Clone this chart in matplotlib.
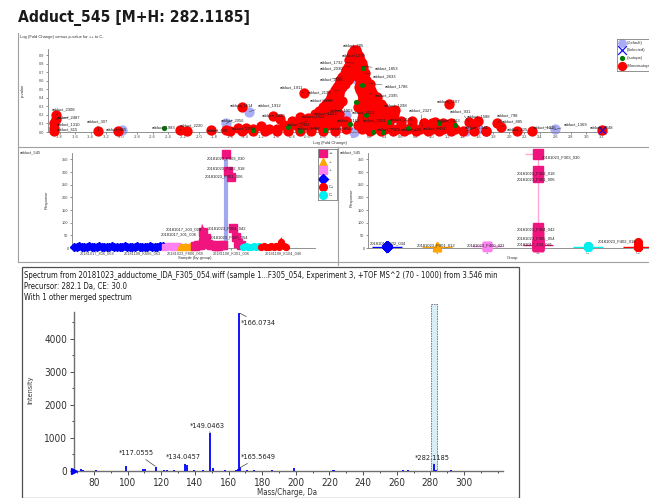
import numpy as np
import matplotlib
matplotlib.use("Agg")
import matplotlib.pyplot as plt
from matplotlib.lines import Line2D
from matplotlib.patches import Rectangle
from matplotlib import font_manager

W, H = 649, 498
plt.rcParams['font.family'] = ['Liberation Sans', 'DejaVu Sans']
plt.rcParams['axes.unicode_minus'] = False

# pick a narrow face if one is installed, otherwise plain Liberation Sans (shrunk to fit)
NARROW = dict(family='Liberation Sans')
for f in font_manager.fontManager.ttflist:
    tag = (f.name + f.fname).lower()
    if ('narrow' in tag or 'condensed' in tag) and f.style == 'normal':
        NARROW = dict(family=f.name, stretch=f.stretch)
        break

# ---------------- data: volcano plot ----------------
title = "Adduct_545 [M+H: 282.1185]"
mono_rows = [
    (0.97, [0.0, 0.03]),
    (0.93, [-0.02, 0.04]),
    (0.89, [-0.04, 0.02, 0.06]),
    (0.85, [-0.06, 0.0, 0.08]),
    (0.81, [-0.05, 0.03, 0.1]),
    (0.77, [-0.08, 0.0, 0.06, 0.12]),
    (0.73, [-0.1, -0.03, 0.05, 0.1]),
    (0.69, [-0.12, 0.02, 0.08, 0.14]),
    (0.65, [-0.15, -0.05, 0.05, 0.12]),
    (0.61, [-0.18, -0.08, 0.1, 0.16]),
    (0.57, [-0.2, -0.12, 0.08, 0.14, 0.2]),
    (0.53, [-0.22, -0.15, 0.06, 0.12, 0.18]),
    (0.49, [-0.25, -0.18, 0.08, 0.15, 0.22]),
    (0.45, [-0.28, -0.2, 0.1, 0.18, 0.25]),
    (0.41, [-0.3, -0.22, 0.12, 0.2, 0.3]),
    (0.37, [-0.32, -0.25, -0.15, 0.1, 0.18, 0.28]),
    (0.33, [-0.36, -0.28, -0.2, 0.08, 0.15, 0.25, 0.35]),
    (0.29, [-0.4, -0.32, -0.22, 0.05, 0.12, 0.2, 0.3, 0.38]),
    (0.25, [-0.45, -0.35, -0.25, 0.1, 0.18, 0.28, 0.4, 0.48]),
    (0.21, [-0.5, -0.4, -0.3, -0.2, 0.12, 0.22, 0.32, 0.42, 0.52]),
    (0.17, [-0.6, -0.5, -0.4, -0.3, -0.2, 0.1, 0.2, 0.3, 0.4, 0.5]),
    (0.13, [-0.8, -0.65, -0.5, -0.4, -0.3, -0.2, -0.1, 0.1, 0.2, 0.3, 0.4, 0.6, 0.75]),
    (0.10, [0.9, 1.0, 1.15, 1.25]),
    (0.08, [-0.9, -0.75, -0.6, -0.45, -0.35, -0.25, -0.1, 0.05, 0.15, 0.3, 0.45, 0.6, 0.75, 0.9, 1.05]),
    (0.04, [-1.0, -0.85, -0.7, -0.55, -0.4, -0.25, -0.1, 0.1, 0.25, 0.4, 0.55, 0.7, 0.85, 1.0, 1.15, 1.3]),
    (0.01, [-1.6, -1.45, -1.3, -1.15, -1.0, -0.85, -0.7, -0.55, -0.4, -0.25, 0.2, 0.35, 0.5,
            0.65, 0.8, 0.95, 1.1, 1.25, 1.4, 1.55, 1.7]),
]
mono_fc = [-3.85, -3.85, -3.87, -3.87, -3.87, -3.3, -3.05, -2.25, -2.15, -1.85, -1.65, -1.45, -1.5,
           -1.4, -1.3, -1.2, -1.1, -1.05, -0.95, -0.7, -0.65, 0.53, 0.9, 1.05, 1.2, 1.23, 1.48,
           1.6, 1.55, 1.7, 1.85, 1.9, 2.1, 2.3, 3.2]
mono_p = [0.2, 0.15, 0.1, 0.05, 0.01, 0.01, 0.01, 0.02, 0.01, 0.02, 0.02, 0.29, 0.05,
          0.05, 0.03, 0.07, 0.03, 0.19, 0.15, 0.18, 0.46, 0.26, 0.1, 0.12, 0.08, 0.33, 0.12,
          0.13, 0.09, 0.01, 0.11, 0.06, 0.01, 0.01, 0.02]
def_fc = [-3.0, -1.65, -1.35, -1.15, -0.6, -0.45, -0.25, -0.1, 0.0, 0.02, 0.35, 0.45, 0.6, 1.45, 1.6, 2.6, -0.3]
def_p = [0.02, 0.1, 0.24, 0.03, 0.13, 0.18, 0.05, 0.2, 0.0, 0.62, 0.3, 0.25, 0.1, 0.01, 0.03, 0.03, 0.4]
iso_fc = [-2.45, -1.3, -0.85, -0.7, -0.38, -0.05, 0.1, 0.12, 0.15, 0.25, 0.38, 0.45, 0.7, 1.1, 1.3, 0.02]
iso_p = [0.05, 0.02, 0.06, 0.01, 0.02, 0.09, 0.55, 0.75, 0.2, 0.0, 0.0, 0.12, 0.05, 0.1, 0.08, 0.35]
sel_fc, sel_p = [3.2], [0.02]

vol_labels = [
    ("adduct_2308", -3.85, 0.20), ("adduct_2487", -3.85, 0.15), ("adduct_1310", -3.87, 0.10),
    ("adduct_615", -3.87, 0.05), ("adduct_307", -3.3, 0.01), ("adduct_465", -3.0, 0.02),
    ("adduct_1983", -2.45, 0.05), ("adduct_2220", -2.25, 0.02), ("adduct_600", -1.85, 0.02),
    ("adduct_2056", -1.65, 0.10), ("adduct_1614", -1.45, 0.29), ("adduct_1912", -1.35, 0.24),
    ("adduct_2099", -1.4, 0.05), ("adduct_1830", -1.05, 0.19), ("adduct_1911", -0.65, 0.46),
    ("adduct_2481", -0.6, 0.13), ("adduct_1787", -0.45, 0.04), ("adduct_1624", -0.5, 0.17),
    ("adduct_2193", -0.2, 0.49), ("adduct_2160", -0.28, 0.37), ("adduct_1003", -0.25, 0.25),
    ("adduct_685", 0.0, 0.97), ("adduct_1270", 0.02, 0.89), ("adduct_1732", 0.0, 0.81),
    ("adduct_2030", -0.05, 0.77), ("adduct_1853", 0.1, 0.77), ("adduct_2633", 0.14, 0.69),
    ("adduct_2506", -0.15, 0.65), ("adduct_1786", 0.2, 0.57), ("adduct_2395", 0.2, 0.45),
    ("adduct_1298", 0.53, 0.26), ("adduct_1507", 1.23, 0.33), ("adduct_2327", 0.88, 0.06),
    ("adduct_931", 1.48, 0.12), ("adduct_1588", 1.6, 0.13), ("adduct_798", 1.85, 0.11),
    ("adduct_885", 1.9, 0.06), ("adduct_425", 2.1, 0.01), ("adduct_1976", 2.6, 0.03),
    ("adduct_1369", 2.6, 0.03), ("adduct_2648", 3.2, 0.02), ("adduct_2113", 0.12, 0.13),
    ("adduct_1165", 0.05, 0.08), ("adduct_2049", -0.1, 0.04), ("adduct_2021", 0.3, 0.08),
    ("adduct_2309", 0.5, 0.04), ("adduct_2176", 0.75, 0.08), ("adduct_625", 0.8, 0.01),
    ("adduct_2454", 1.1, 0.04), ("adduct_1913", 1.1, 0.10), ("adduct_1341", 1.45, 0.01),
    ("adduct_1503", -0.3, 0.2),
]
# label text anchor (left edge, centre) in figure pixels from top-left
vol_label_pos = [
    (52, 109), (57, 117), (57, 124), (57, 129), (87, 121), (106, 129), (152, 127), (180, 125),
    (207, 130), (221, 120), (230, 105), (258, 105), (232, 128), (262, 115), (280, 87), (287, 124),
    (297, 128), (302, 116), (308, 92), (310, 100), (330, 110), (343, 45), (342, 55), (320, 62),
    (320, 68), (375, 68), (373, 76), (320, 79), (385, 86), (375, 95), (384, 105), (437, 101),
    (409, 110), (450, 111), (467, 116), (497, 115), (502, 121), (507, 129), (533, 127), (564, 124),
    (590, 127), (352, 112), (337, 120), (330, 128), (363, 120), (377, 129), (390, 119), (401, 129),
    (423, 128), (437, 120), (465, 127), (314, 113),
]

# ---------------- data: sample / group profile ----------------
group_order = ['--', '-+', '+-', '++', 'C-', 'C+']          # order along sample axis
group_colors = {'++': '#f0147f', '+-': '#ffa500', '-+': '#ff80f0', '--': '#0000ff',
                'C+': '#ff0000', 'C-': '#00f0f0'}
group_markers = {'++': 's', '+-': '^', '-+': 's', '--': 'D', 'C+': 'o', 'C-': 'o'}
group_vals = {
    '--': [4, 5, 6, 5, 4, 5, 6, 5, 5, 4, 6, 5, 5, 4, 5, 6, 5, 5, 4, 5, 6, 5, 4, 5, 5, 6, 5, 4,
           5, 5, 6, 5, 4, 5, 9, 6],
    '-+': [5, 6, 7, 5, 6, 8],
    '+-': [4, 5, 6, 5, 7, 5],
    '++': [8, 10, 12, 62, 40, 15, 10, 12, 9, 8, 10, 12, 370, 305, 280, 78, 45, 20, 10],
    'C-': [5, 6, 4, 5, 6, 5, 7],
    'C+': [5, 6, 5, 4, 6, 5, 7, 5, 22, 6, 5],
}
sample_ticks = [9, 27, 44, 62, 83]
sample_tick_labels = ["20181017_806_068", "20181108_K606_063", "20181023_F806_069",
                      "20181108_K301_006", "20181108_K104_046"]
# labelled samples: (name, group, index within group)
sample_labels = [("20181023_F303_030", '++', 12), ("20181023_F302_018", '++', 13),
                 ("20181023_F301_006", '++', 14), ("20181023_F304_042", '++', 15),
                 ("20181023_F305_054", '++', 16), ("20181017_203_029", '++', 3),
                 ("20181017_301_006", '++', 4)]
sample_label_pos = [(226, 158), (226, 168), (224, 176), (227, 228), (229, 237), (184, 229), (179, 234)]

group_axis = ['--', '+-', '-+', '++', 'C-', 'C+']
group_labels = [("20181023_F303_030", '++', 12), ("20181023_F302_018", '++', 13),
                ("20181023_F301_006", '++', 14), ("20181023_F304_042", '++', 15),
                ("20181023_F305_054", '++', 16), ("20181017_204_041", '++', 17),
                ("20181017_902_034", '--', 34), ("20181023_F901_012", '+-', 4),
                ("20181023_F400_021", '-+', 5), ("20181023_F402_018", 'C+', 8)]
group_label_pos = [(542, 157), (517, 173), (517, 179), (517, 229), (517, 238), (517, 244),
                   (370, 243), (417, 245), (467, 245), (598, 241)]

# ---------------- data: MS/MS spectrum ----------------
mz = [72.0, 73.5, 81.0, 99.0, 109.3, 110.2, 117.06, 121.5, 123.2, 127.5, 134.05, 135.0, 139.5,
      145.0, 149.05, 150.5, 151.0, 158.0, 164.6, 165.56, 166.07, 167.0, 171.0, 175.0, 186.0,
      199.0, 222.0, 223.0, 264.0, 266.5, 282.12, 283.1, 292.0]
intensity = [60, 30, 30, 150, 50, 60, 120, 30, 40, 30, 200, 170, 25, 30, 1160, 40, 80, 20, 40,
             60, 4800, 120, 25, 20, 20, 100, 30, 40, 30, 25, 200, 40, 25]
peak_labels = [("*166.0734", 166.07, 4800), ("*149.0463", 149.05, 1160), ("*117.0555", 117.06, 120),
               ("*134.0457", 134.05, 200), ("*165.5649", 165.56, 60), ("*282.1185", 282.12, 200)]
peak_label_pos = [(241, 323), (190, 426), (119, 453), (166, 457), (241, 457), (415, 458)]
precursor_window = (280.6, 284.1)
spec_header = ["Spectrum from 20181023_adductome_IDA_F305_054.wiff (sample 1...F305_054, Experiment 3, "
               "+TOF MS^2 (70 - 1000) from 3.546 min",
               "Precursor: 282.1 Da, CE: 30.0",
               "With 1 other merged spectrum"]

# ---------------- helpers ----------------
fig = plt.figure(figsize=(W / 100, H / 100), dpi=100)
renderer = fig.canvas.get_renderer()


def box(l, t, r, b):
    return [l / W, 1 - b / H, (r - l) / W, (b - t) / H]


def fline(x0, y0, x1, y1, color='#a0a0a0', lw=0.8):
    fig.add_artist(Line2D([x0 / W, x1 / W], [1 - y0 / H, 1 - y1 / H], transform=fig.transFigure,
                          color=color, lw=lw))


def ftext(x, y, s, **kw):
    kw.setdefault('va', 'center')
    return fig.text(x / W, 1 - y / H, s, **kw)


def fit(t, target, vertical=False):
    # shrink a text until its width (or height) is no more than target pixels
    bb = t.get_window_extent(renderer)
    size = bb.height if vertical else bb.width
    if size > target:
        t.set_fontsize(t.get_fontsize() * target / size)
    return t.get_fontsize()


def tiny_axes(ax):
    for s in ['top', 'right']:
        ax.spines[s].set_visible(False)
    for s in ['left', 'bottom']:
        ax.spines[s].set_color('#808080')
        ax.spines[s].set_linewidth(0.6)
    ax.tick_params(length=1.5, width=0.4, labelsize=2.8, pad=1, colors='#404040')
    ax.patch.set_alpha(0)


TINY = 3.0
DARK = '#303030'

# panel frames
fline(18, 33, 18, 262)
fline(18, 147, 649, 147)
fline(338, 147, 338, 265)
fline(18, 262, 649, 262)
fig.add_artist(Rectangle((22 / W, 0), (519 - 22) / W, 1 - 267 / H, transform=fig.transFigure,
                         fill=False, ec='#505050', lw=0.9))

t = ftext(18, 18, title, fontsize=14, fontweight='bold', color='#1a1a1a', **NARROW)
fit(t, 234)

# ---------------- volcano ----------------
ax = fig.add_axes(box(48, 49, 607, 132))
tiny_axes(ax)
ax.set_xlim(-3.95, 3.265)
ax.set_ylim(0, 0.976)
mfc = [f for p, row in mono_rows for f in row] + mono_fc
mp = [p for p, row in mono_rows for f in row] + mono_p
ax.scatter(def_fc, def_p, s=55, color='#a8acf5', lw=0, zorder=2, clip_on=False)
ax.scatter(mfc, mp, s=55, color='#ff0000', lw=0, zorder=3, clip_on=False)
ax.scatter(iso_fc, iso_p, s=14, color='#007a00', lw=0, zorder=4, clip_on=False)
ax.scatter(sel_fc, sel_p, s=30, marker='x', color='#1010ff', lw=0.9, zorder=5, clip_on=False)
xt = np.round(np.arange(-3.8, 3.21, 0.2), 1)
yt = np.round(np.arange(0, 0.91, 0.1), 1)
ax.set_xticks(xt)
ax.set_xticklabels(['%.1f' % v for v in xt])
ax.set_yticks(yt)
ax.set_yticklabels(['%.1f' % v for v in yt])
for (name, f, p), (tx, ty) in zip(vol_labels, vol_label_pos):
    ax.annotate(name, xy=(f, p), xytext=(tx, H - ty), textcoords='figure pixels',
                fontsize=TINY, color='#202020', ha='left', va='center', zorder=6,
                arrowprops=dict(arrowstyle='-', color='#202020', lw=0.3, shrinkA=0, shrinkB=0))
ftext(20, 37, "Log (Fold Change) versus p-value for ++ to C-", fontsize=TINY, color=DARK)
ftext(330, 143, "Log (Fold Change)", fontsize=TINY, color=DARK, ha='center')
ftext(23, 90, "p-value", fontsize=TINY, color=DARK, ha='center', rotation=90)

# volcano legend
lax = fig.add_axes(box(617, 39, 655, 71))
lax.set_xlim(617, 655)
lax.set_ylim(71, 39)
lax.set_xticks([])
lax.set_yticks([])
for s in lax.spines.values():
    s.set_color('#808080')
    s.set_linewidth(0.6)
lax.scatter([622], [43], s=40, color='#a8acf5', lw=0)
lax.scatter([622], [50], s=40, marker='x', color='#1010ff', lw=0.9)
lax.scatter([622], [58], s=14, color='#007a00', lw=0)
lax.scatter([622], [66], s=45, color='#ff0000', lw=0)
for yy, s in zip([43, 50, 58, 66], ["(Default)", "(Selected)", "(Isotope)", "(Monoisotopic)"]):
    lax.text(627, yy, s, fontsize=TINY, va='center', color=DARK)

# ---------------- sample profile (left middle) ----------------
ax2 = fig.add_axes(box(72, 153, 315, 248))
tiny_axes(ax2)
ax2.set_xlim(-0.8, 95.3)
ax2.set_ylim(0, 375)
ax2.set_yticks(range(0, 351, 50))
start = 0
starts = {}
for g in group_order:
    vals = np.array(group_vals[g], dtype=float)
    xs = np.arange(start, start + len(vals))
    starts[g] = start
    band = np.where(vals > 100, np.nan, vals)
    ms = 5.5 if g == '++' else 4.2
    ax2.plot(xs, band, color=group_colors[g], lw=3.8, zorder=3, clip_on=False,
             solid_capstyle='butt', solid_joinstyle='miter')
    ax2.plot(xs, vals, ls='none', marker=group_markers[g], ms=ms, color=group_colors[g],
             mec=group_colors[g], zorder=3, clip_on=False)
    start += len(vals)
imax = starts['++'] + int(np.argmax(group_vals['++']))
ax2.vlines(imax, 0, max(group_vals['++']), color='#a0a8f0', lw=3, zorder=2)
ax2.set_xticks(sample_ticks)
ax2.set_xticklabels(sample_tick_labels)
for (name, g, k), (tx, ty) in zip(sample_labels, sample_label_pos):
    ax2.annotate(name, xy=(starts[g] + k, group_vals[g][k]), xytext=(tx, H - ty),
                 textcoords='figure pixels', fontsize=TINY, ha='center', va='center', color='#202020',
                 zorder=6)
ftext(20, 152, "adduct_545", fontsize=TINY, color=DARK)
ftext(47, 200, "Response", fontsize=TINY, color=DARK, ha='center', rotation=90)
ftext(195, 258, "Sample (by group)", fontsize=TINY, color=DARK, ha='center')

# group legend
gax = fig.add_axes(box(318, 149, 337, 200))
gax.set_xlim(318, 337)
gax.set_ylim(200, 149)
gax.set_xticks([])
gax.set_yticks([])
for s in gax.spines.values():
    s.set_color('#808080')
    s.set_linewidth(0.6)
for yy, g in zip([153, 162, 170, 179, 187, 195], ['++', '+-', '-+', '--', 'C+', 'C-']):
    gax.plot([322.5], [yy], marker=group_markers[g], color=group_colors[g], ms=5.5, mec=group_colors[g])
    gax.text(328.5, yy, g, fontsize=TINY, va='center', color=DARK)

# ---------------- group profile (right middle) ----------------
ax3 = fig.add_axes(box(368, 153, 649, 248))
tiny_axes(ax3)
ax3.set_xlim(-0.378, 5.22)
ax3.set_ylim(0, 375)
ax3.set_yticks(range(0, 351, 50))
ax3.set_xticks(range(len(group_axis)))
ax3.set_xticklabels(group_axis)
for i, g in enumerate(group_axis):
    vals = group_vals[g]
    c = group_colors[g]
    ax3.hlines(np.median(vals), i - 0.3, i + 0.3, color=c, lw=1.0, zorder=2)
    if g == '++':
        ax3.vlines(i, 0, max(vals), color='#ffa6d6', lw=1.0, zorder=1)
        ax3.hlines(max(vals), i - 0.25, i, color='#ffa6d6', lw=1.0, zorder=1)
    ms = 7.5 if g == '++' else 5.5
    ax3.plot([i] * len(vals), vals, ls='none', marker=group_markers[g], ms=ms, color=c, mec=c,
             zorder=3, clip_on=False)
for (name, g, k), (tx, ty) in zip(group_labels, group_label_pos):
    ax3.annotate(name, xy=(group_axis.index(g), group_vals[g][k]), xytext=(tx, H - ty),
                 textcoords='figure pixels', fontsize=TINY, ha='left', va='center', color='#202020',
                 zorder=6)
ftext(340, 152, "adduct_545", fontsize=TINY, color=DARK)
ftext(352, 198, "Response", fontsize=TINY, color=DARK, ha='center', rotation=90)
ftext(512, 258, "Group", fontsize=TINY, color=DARK, ha='center')

# ---------------- spectrum ----------------
ax4 = fig.add_axes(box(74, 312, 503, 471))
ax4.set_xlim(68.1, 323.2)
ax4.set_ylim(0, 4818)
for s in ['top', 'right']:
    ax4.spines[s].set_visible(False)
for s in ['left', 'bottom']:
    ax4.spines[s].set_color('#707070')
    ax4.spines[s].set_linewidth(1.0)
ax4.add_patch(Rectangle((precursor_window[0], 0), precursor_window[1] - precursor_window[0], 5060,
                        facecolor='#d8eef5', edgecolor='#707070', lw=0.6, ls=(0, (2, 1)),
                        clip_on=False, zorder=1))
ax4.vlines(mz, 0, intensity, color='#0000ff', lw=1.3, zorder=3, clip_on=False)
ax4.set_xticks(range(80, 301, 20))
ax4.set_xticks(range(70, 321, 10), minor=True)
ax4.set_yticks(range(0, 4001, 1000))
ax4.set_yticks(range(0, 4801, 500), minor=True)
ax4.tick_params(which='major', length=3, width=0.6, labelsize=7.2, colors='#303030', pad=2)
ax4.tick_params(which='minor', length=1.5, width=0.5)
for lab in ax4.get_xticklabels() + ax4.get_yticklabels():
    lab.set(**NARROW)
ax4.plot([68.1], [0], marker='>', color='#0000ff', ms=5, clip_on=False, zorder=5)

# spectrum texts, all sized to the widths seen in the reference
probe = ftext(0, 0, peak_labels[0][0], fontsize=7, **NARROW)
peak_size = fit(probe, 35)
probe.remove()
for (name, m, inten), (tx, ty) in zip(peak_labels, peak_label_pos):
    ax4.annotate(name, xy=(m, inten), xytext=(tx, H - ty), textcoords='figure pixels',
                 fontsize=peak_size, ha='left', va='center', color='#202020', zorder=6,
                 arrowprops=dict(arrowstyle='-', color='#404040', lw=0.5, shrinkA=1, shrinkB=1),
                 **NARROW)
hdr = ftext(24, 276, spec_header[0], fontsize=7.5, color='#1a1a1a', **NARROW)
hdr_size = fit(hdr, 473)
for k, s in enumerate(spec_header[1:]):
    ftext(24, 287 + 11 * k, s, fontsize=hdr_size, color='#1a1a1a', **NARROW)
t = ftext(30, 390, "Intensity", fontsize=7.5, color='#303030', ha='center', rotation=90, **NARROW)
fit(t, 28, vertical=True)
t = ftext(287, 492, "Mass/Charge, Da", fontsize=7.5, color='#303030', ha='center', **NARROW)
fit(t, 60)

fig.savefig("out.png", dpi=100)
